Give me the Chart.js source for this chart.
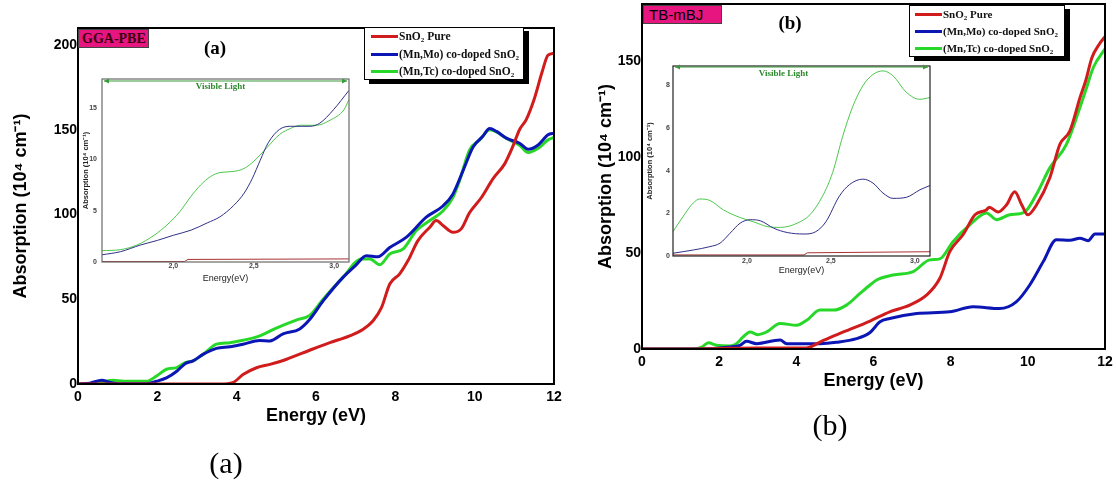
<!DOCTYPE html>
<html>
<head>
<meta charset="utf-8">
<script src="https://cdn.jsdelivr.net/npm/chart.js@4.4.1/dist/chart.umd.min.js"></script>
<style>
  body { margin:0; background:#fff; width:1116px; height:482px; position:relative; overflow:hidden; }
  canvas { position:absolute; }
  .legend { position:absolute; background:#fff; border:1px solid #000; box-shadow:5px 4px 0 #000;
            font:bold 11.5px "Liberation Serif"; color:#111; }
  .legend .row { position:absolute; left:0; height:17px; line-height:17px; white-space:nowrap; }
  .legend .swatch { position:absolute; top:7px; height:3px; width:27px; }
  .legend .txt { position:absolute; top:0; }
  .legend sub { font-size:7px; vertical-align:-2px; }
  .tag { position:absolute; background:#e6157f; border:1px solid #444; box-sizing:border-box; }
  .lbl { position:absolute; transform:translate(-50%,-50%); white-space:nowrap; }
</style>
</head>
<body>

<canvas id="mainA" width="580" height="482" style="left:0;top:0"></canvas>
<canvas id="mainB" width="556" height="482" style="left:560px;top:0"></canvas>
<canvas id="insetA" width="280" height="220" style="left:78px;top:70px"></canvas>
<canvas id="insetB" width="295" height="225" style="left:640px;top:58px"></canvas>

<div class="tag" style="left:78px;top:29px;width:71px;height:19px;font:bold 14px 'Liberation Serif';color:#3a0010;line-height:17px;padding-left:3px">GGA-PBE</div>
<div class="tag" style="left:643px;top:5px;width:79px;height:19px;font:15px 'Liberation Sans';color:#000;line-height:17px;padding-left:5px">TB-mBJ</div>
<div class="lbl" style="left:215px;top:48px;font:bold 19px 'Liberation Serif'">(a)</div>
<div class="lbl" style="left:790px;top:23px;font:bold 19px 'Liberation Serif'">(b)</div>
<div class="lbl" style="left:226px;top:463px;font:30px 'Liberation Serif'">(a)</div>
<div class="lbl" style="left:830px;top:425px;font:30px 'Liberation Serif'">(b)</div>

<div class="legend" style="left:364px;top:27px;width:158px;height:51px">
  <div class="row" style="top:0"><div class="swatch" style="left:6px;background:#d01c1c"></div><span class="txt" style="left:34px">SnO<sub>2</sub> Pure</span></div>
  <div class="row" style="top:18px"><div class="swatch" style="left:6px;background:#0b16b4"></div><span class="txt" style="left:34px">(Mn,Mo) co-doped SnO<sub>2</sub></span></div>
  <div class="row" style="top:35px"><div class="swatch" style="left:6px;background:#28d828"></div><span class="txt" style="left:34px">(Mn,Tc) co-doped SnO<sub>2</sub></span></div>
</div>
<div class="legend" style="left:909px;top:5px;width:154px;height:50px;font-size:11px">
  <div class="row" style="top:0"><div class="swatch" style="left:5px;background:#d01c1c"></div><span class="txt" style="left:33px">SnO<sub>2</sub> Pure</span></div>
  <div class="row" style="top:17px"><div class="swatch" style="left:5px;background:#0b16b4"></div><span class="txt" style="left:33px">(Mn,Mo) co-doped SnO<sub>2</sub></span></div>
  <div class="row" style="top:34px"><div class="swatch" style="left:5px;background:#28d828"></div><span class="txt" style="left:33px">(Mn,Tc) co-doped SnO<sub>2</sub></span></div>
</div>

<script>
// ---- panel (a) GGA-PBE, main curves ----
const pbePureE  = [0, 1, 2, 3, 3.6, 3.9, 4.17, 4.5, 4.84, 5.26, 5.84, 6.35, 6.85, 7.19, 7.44, 7.65, 7.86, 8.11, 8.32, 8.57, 8.87, 9.03, 9.2, 9.45, 9.66, 9.87, 10.17, 10.46, 10.76, 10.96, 11.13, 11.3, 11.5, 11.7, 11.85, 12];
const pbePure   = [0, 0, 0, 0, 0, 0.8, 5.7, 9.6, 11.6, 14.6, 19.9, 24.4, 28.4, 32.3, 37.3, 45, 59, 65, 72.8, 84.6, 92.5, 96.4, 93.5, 89.5, 91.5, 101, 110, 121, 130, 140, 150, 156, 168, 184, 194, 195];
const pbeMnMoE  = [0, 0.3, 0.6, 0.8, 1.06, 1.73, 1.98, 2.23, 2.49, 2.7, 2.9, 3.16, 3.49, 3.83, 4.16, 4.58, 4.84, 5.17, 5.59, 5.84, 6.18, 6.68, 7.0, 7.27, 7.56, 7.86, 8.28, 8.78, 9.2, 9.45, 9.71, 9.96, 10.2, 10.38, 10.55, 10.8, 11.13, 11.35, 11.6, 11.85, 12];
const pbeMnMo   = [0, 0.5, 2.2, 1, 0.2, 0.2, 1.6, 3.6, 7.5, 12, 13.6, 17.6, 21, 22, 23.5, 25.6, 25.4, 29.6, 32.5, 38, 49, 62.9, 70, 75.7, 75, 80.5, 86.6, 98.4, 105, 112, 126, 139.8, 146, 150.7, 149, 145, 142, 138.5, 141, 147, 148];
const pbeMnTcE  = [0, 0.3, 0.89, 1.14, 1.73, 1.98, 2.23, 2.49, 2.7, 2.9, 3.16, 3.49, 3.83, 4.16, 4.58, 5.0, 5.5, 5.84, 6.18, 6.68, 7.15, 7.36, 7.61, 7.86, 8.2, 8.53, 8.87, 9.2, 9.45, 9.62, 9.87, 10.13, 10.38, 10.55, 10.8, 11.13, 11.35, 11.6, 11.85, 12];
const pbeMnTc   = [0, 0, 2.2, 1.6, 1.6, 4.7, 8.7, 9.7, 12.6, 13.6, 17.6, 23.5, 24.4, 25.8, 28.4, 33, 37.7, 40.5, 50, 62.9, 73.8, 73.8, 70.4, 76.7, 79.7, 90.5, 96.4, 102, 110, 120, 138, 144, 150, 148.7, 144.8, 140.8, 136.5, 139, 144, 145.5];

// ---- panel (b) TB-mBJ, main curves ----
const mbjPureE  = [0, 1, 2, 3, 4.18, 4.35, 4.7, 5.22, 5.91, 6.42, 6.94, 7.38, 7.72, 7.98, 8.32, 8.63, 8.93, 9.0, 9.23, 9.45, 9.66, 9.84, 10.0, 10.22, 10.57, 10.83, 11.09, 11.35, 11.5, 11.66, 11.85, 12];
const mbjPure   = [0, 0, 0.3, 0.5, 0.5, 1, 4.5, 8.9, 14.6, 19.4, 22.9, 28.2, 36.9, 50.9, 59.6, 70, 72.7, 74, 71.5, 75.3, 82, 75.3, 70, 75, 89.3, 106.8, 113.8, 131, 140, 152, 159, 163];
const mbjMnMoE  = [0, 1.5, 2.28, 2.54, 2.71, 2.97, 3.58, 3.75, 4.18, 4.61, 5.04, 5.56, 5.91, 6.17, 6.42, 7.12, 7.98, 8.58, 9.27, 9.7, 10.05, 10.4, 10.74, 11.09, 11.35, 11.56, 11.74, 12];
const mbjMnMo   = [0, 0, 1, 1.9, 4, 2.8, 4.7, 2.8, 2.8, 2.8, 3.5, 5.4, 8.6, 14.2, 15.9, 18.5, 19.4, 22, 21.1, 24.6, 33.4, 45.6, 57, 56.7, 57.8, 56.5, 60, 60];
const mbjMnTcE  = [0, 1.33, 1.55, 1.72, 1.94, 2.28, 2.45, 2.62, 2.8, 3.01, 3.23, 3.58, 4.01, 4.27, 4.61, 4.96, 5.3, 5.65, 5.91, 6.08, 6.51, 7.03, 7.46, 7.72, 8.06, 8.5, 8.93, 9.19, 9.53, 9.92, 10.22, 10.57, 11.0, 11.35, 11.5, 11.7, 12];
const mbjMnTc   = [0, 0, 1, 3.3, 1.9, 1.6, 2.8, 6.3, 8.9, 7.5, 8.9, 13.3, 12.4, 15, 20.3, 20.3, 22.9, 29, 33.4, 36, 38.6, 40.4, 46.5, 47, 56, 64.9, 71, 67.5, 70, 71.5, 80.6, 94.5, 106.8, 126, 135, 147, 156.6];

// ---- insets (visible range) ----
const insPbePureE = [1.556, 2.07, 2.09, 3.092];
const insPbePure  = [0.05, 0.05, 0.25, 0.3];
const insPbeMnMoE = [1.556, 1.67, 1.795, 1.9, 2.0, 2.11, 2.21, 2.29, 2.375, 2.44, 2.49, 2.54, 2.59, 2.66, 2.73, 2.85, 2.91, 2.995, 3.092];
const insPbeMnMo  = [0.7, 1.0, 1.65, 2.1, 2.6, 3.1, 3.8, 4.4, 5.5, 6.7, 8.1, 9.9, 11.6, 12.9, 13.2, 13.2, 13.5, 14.8, 16.7];
const insPbeMnTcE = [1.556, 1.67, 1.775, 1.88, 1.96, 2.04, 2.11, 2.17, 2.23, 2.29, 2.37, 2.44, 2.5, 2.58, 2.66, 2.73, 2.79, 2.89, 2.975, 3.06, 3.092];
const insPbeMnTc  = [1.1, 1.2, 1.66, 2.6, 3.6, 4.9, 6.4, 7.5, 8.3, 8.7, 8.8, 9.1, 9.8, 11.1, 12.4, 13.0, 13.3, 13.3, 13.8, 14.8, 15.8];

const insMbjPureE = [1.56, 2.34, 2.36, 3.09];
const insMbjPure  = [0.05, 0.05, 0.15, 0.2];
const insMbjMnMoE = [1.56, 1.68, 1.78, 1.84, 1.9, 1.96, 2.02, 2.08, 2.16, 2.24, 2.34, 2.41, 2.47, 2.55, 2.61, 2.69, 2.75, 2.81, 2.87, 2.95, 3.03, 3.09];
const insMbjMnMo  = [0.13, 0.28, 0.44, 0.6, 1.07, 1.54, 1.7, 1.65, 1.3, 1.1, 1.03, 1.14, 1.6, 2.8, 3.34, 3.6, 3.42, 2.95, 2.7, 2.75, 3.1, 3.3];
const insMbjMnTcE = [1.56, 1.62, 1.68, 1.72, 1.78, 1.86, 1.96, 2.04, 2.12, 2.2, 2.3, 2.375, 2.45, 2.51, 2.57, 2.63, 2.69, 2.75, 2.81, 2.87, 2.95, 3.03, 3.09];
const insMbjMnTc  = [1.14, 1.85, 2.48, 2.67, 2.6, 2.16, 1.8, 1.6, 1.38, 1.34, 1.54, 1.93, 2.8, 3.9, 5.6, 7.0, 7.97, 8.5, 8.67, 8.44, 7.66, 7.34, 7.42];

const mainTicks = [0, 2, 4, 6, 8, 10, 12];
const insetTicks = [2.0, 2.5, 3.0];
const seriesNames = ['SnO2 Pure', '(Mn,Mo) co-doped SnO2', '(Mn,Tc) co-doped SnO2'];

function pts(xs, ys) {
  return xs.map((x, i) => ({ x: x, y: ys[i] }));
}

// box round the plot, white background and "Visible Light" arrow for the insets
const framePlugin = {
  id: 'frame',
  beforeDraw(chart, args, o) {
    const a = chart.chartArea, ctx = chart.ctx;
    if (o.fill) {
      ctx.save();
      ctx.fillStyle = '#fff';
      ctx.fillRect(a.left, a.top, a.right - a.left, a.bottom - a.top);
      ctx.restore();
    }
  },
  afterDatasetsDraw(chart, args, o) {
    const a = chart.chartArea, ctx = chart.ctx;
    ctx.save();
    ctx.strokeStyle = o.color;
    ctx.lineWidth = o.width;
    ctx.strokeRect(a.left, a.top, a.right - a.left, a.bottom - a.top);
    if (o.visible) {
      const y = a.top + o.arrowDy, l = a.left + 2, r = a.right - 2;
      ctx.strokeStyle = '#3a9a3a';
      ctx.fillStyle = '#3a9a3a';
      ctx.lineWidth = 1.2;
      ctx.beginPath(); ctx.moveTo(l, y); ctx.lineTo(r, y); ctx.stroke();
      ctx.beginPath(); ctx.moveTo(l, y); ctx.lineTo(l + 5, y - 2.5); ctx.lineTo(l + 5, y + 2.5); ctx.closePath(); ctx.fill();
      ctx.beginPath(); ctx.moveTo(r, y); ctx.lineTo(r - 5, y - 2.5); ctx.lineTo(r - 5, y + 2.5); ctx.closePath(); ctx.fill();
      ctx.font = 'bold 9px "Liberation Serif"';
      ctx.textAlign = 'center';
      ctx.textBaseline = 'middle';
      ctx.fillStyle = '#2e8a2e';
      ctx.fillText('Visible Light', a.left + (a.right - a.left) * o.textAt, a.top + 8);
    }
    ctx.restore();
  }
};

function mainChart(id, d, ymax, lay) {
  return new Chart(document.getElementById(id), {
    type: 'line',
    data: {
      datasets: [
        { label: seriesNames[0], data: d[0], borderColor: '#d01c1c' },
        { label: seriesNames[1], data: d[1], borderColor: '#0b16b4' },
        { label: seriesNames[2], data: d[2], borderColor: '#28d828' }
      ]
    },
    options: {
      responsive: false,
      animation: false,
      layout: { padding: { left: 0, right: lay.right, top: lay.top, bottom: lay.bottom } },
      elements: {
        point: { radius: 0 },
        line: { borderWidth: 3, cubicInterpolationMode: 'monotone' }
      },
      scales: {
        x: {
          type: 'linear', min: 0, max: 12,
          grid: { display: false, drawTicks: false },
          border: { display: false },
          afterBuildTicks: s => { s.ticks = mainTicks.map(v => ({ value: v })); },
          afterFit: s => { s.height = 43; s.paddingLeft = 0; s.paddingRight = 0; },
          ticks: { padding: 5, color: '#000', font: { family: 'Liberation Sans', size: 14, weight: 'bold' } },
          title: { display: true, text: 'Energy (eV)', color: '#000', padding: 0,
                   font: { family: 'Liberation Sans', size: 18, weight: 'bold' } }
        },
        y: {
          min: 0, max: ymax,
          grid: { display: false, drawTicks: false },
          border: { display: false },
          afterFit: s => { s.width = lay.yw; s.paddingTop = 0; s.paddingBottom = 0; },
          ticks: { stepSize: 50, includeBounds: false, padding: 1, color: '#000',
                   font: { family: 'Liberation Sans', size: 14, weight: 'bold' } },
          title: { display: true, text: 'Absorption (10⁴ cm⁻¹)', color: '#000', padding: { top: lay.tp, bottom: 0 },
                   font: { family: 'Liberation Sans', size: 18, weight: 'bold' } }
        }
      },
      plugins: {
        legend: { display: false },
        tooltip: { enabled: false },
        frame: { color: '#000', width: 2 }
      }
    },
    plugins: [framePlugin]
  });
}

function insetChart(id, d, xmin, xmax, ymax, step, lay) {
  return new Chart(document.getElementById(id), {
    type: 'line',
    data: {
      datasets: [
        { label: seriesNames[0], data: d[0], borderColor: '#a83232', cubicInterpolationMode: 'default', tension: 0 },
        { label: seriesNames[1], data: d[1], borderColor: '#303088' },
        { label: seriesNames[2], data: d[2], borderColor: '#4cc84c' }
      ]
    },
    options: {
      responsive: false,
      animation: false,
      layout: { padding: { left: 0, right: lay.right, top: lay.top, bottom: lay.bottom } },
      elements: {
        point: { radius: 0 },
        line: { borderWidth: 1, cubicInterpolationMode: 'monotone' }
      },
      scales: {
        x: {
          type: 'linear', min: xmin, max: xmax,
          grid: { display: false, drawTicks: false },
          border: { display: false },
          afterBuildTicks: s => { s.ticks = insetTicks.map(v => ({ value: v })); },
          afterFit: s => { s.height = lay.xh; s.paddingLeft = 0; s.paddingRight = 0; },
          ticks: { padding: lay.xp, color: '#444', callback: v => v.toFixed(1).replace('.', ','),
                   font: { family: 'Liberation Sans', size: 7, weight: 'bold' } },
          title: { display: true, text: 'Energy(eV)', color: '#222', padding: 0,
                   font: { family: 'Liberation Sans', size: 9 } }
        },
        y: {
          min: 0, max: ymax,
          grid: { display: false, drawTicks: false },
          border: { display: false },
          afterFit: s => { s.width = lay.yw; s.paddingTop = 0; s.paddingBottom = 0; },
          ticks: { stepSize: step, includeBounds: false, padding: lay.yp, color: '#444',
                   font: { family: 'Liberation Sans', size: 7, weight: 'bold' } },
          title: { display: true, text: 'Absorption (10⁴ cm⁻¹)', color: '#222', padding: { top: lay.tp, bottom: 0 },
                   font: { family: 'Liberation Sans', size: 7.5, weight: 'bold' } }
        }
      },
      plugins: {
        legend: { display: false },
        tooltip: { enabled: false },
        frame: { color: lay.frame, width: 1.2, fill: true, visible: true, arrowDy: lay.ady, textAt: lay.textAt }
      }
    },
    plugins: [framePlugin]
  });
}

mainChart('mainA', [pts(pbePureE, pbePure), pts(pbeMnMoE, pbeMnMo), pts(pbeMnTcE, pbeMnTc)], 210,
  { right: 26, top: 28, bottom: 55, yw: 78, tp: 10 });
mainChart('mainB', [pts(mbjPureE, mbjPure), pts(mbjMnMoE, mbjMnMo), pts(mbjMnTcE, mbjMnTc)], 180,
  { right: 11, top: 4, bottom: 90, yw: 82, tp: 35 });

insetChart('insetA', [pts(insPbePureE, insPbePure), pts(insPbeMnMoE, insPbeMnMo), pts(insPbeMnTcE, insPbeMnTc)],
  1.556, 3.092, 17.8, 5,
  { right: 9, top: 9, bottom: 6, xh: 22, xp: 0, yw: 24, yp: 5, tp: 3, frame: '#6a6a6a', ady: 2, textAt: 0.48 });
insetChart('insetB', [pts(insMbjPureE, insMbjPure), pts(insMbjMnMoE, insMbjMnMo), pts(insMbjMnTcE, insMbjMnTc)],
  1.56, 3.09, 8.9, 2,
  { right: 5, top: 8, bottom: 7, xh: 20, xp: 1, yw: 33, yp: 3, tp: 5, frame: '#222', ady: 1, textAt: 0.43 });
</script>
</body>
</html>
